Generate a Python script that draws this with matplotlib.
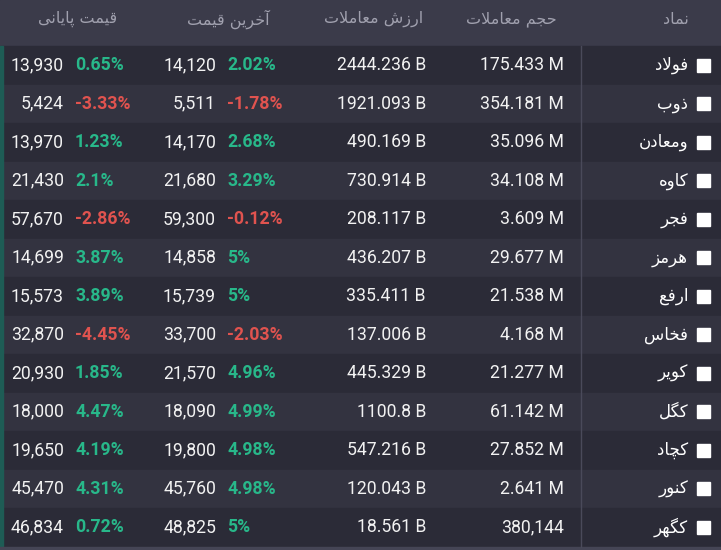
import matplotlib
matplotlib.use('Agg')
import matplotlib.pyplot as plt
from matplotlib.patches import Rectangle

# ---------- data ----------
headers = ['نماد', 'حجم معاملات', 'ارزش معاملات', 'آخرین قیمت', 'قیمت پایانی']
names = ['فولاد', 'ذوب', 'ومعادن', 'کاوه', 'فجر', 'هرمز', 'ارفع', 'فخاس', 'کویر', 'کگل', 'کچاد', 'کنور', 'کگهر']
volume = ['175.433 M', '354.181 M', '35.096 M', '34.108 M', '3.609 M', '29.677 M', '21.538 M',
          '4.168 M', '21.277 M', '61.142 M', '27.852 M', '2.641 M', '380,144']
value = ['2444.236 B', '1921.093 B', '490.169 B', '730.914 B', '208.117 B', '436.207 B', '335.411 B',
         '137.006 B', '445.329 B', '1100.8 B', '547.216 B', '120.043 B', '18.561 B']
last_price = [14120, 5511, 14170, 21680, 59300, 14858, 15739, 33700, 21570, 18090, 19800, 45760, 48825]
last_pct = [2.02, -1.78, 2.68, 3.29, -0.12, 5, 5, -2.03, 4.96, 4.99, 4.98, 4.98, 5]
close_price = [13930, 5424, 13970, 21430, 57670, 14699, 15573, 32870, 20930, 18000, 19650, 45470, 46834]
close_pct = [0.65, -3.33, 1.23, 2.1, -2.86, 3.87, 3.89, -4.45, 1.85, 4.47, 4.19, 4.31, 0.72]

# ---------- minimal persian shaping (matplotlib does no shaping) ----------
# letter -> (isolated, final, initial, medial); right-joining letters have only 2 forms
FORMS = {
    'ا': (0xFE8D, 0xFE8E), 'آ': (0xFE81, 0xFE82), 'د': (0xFEA9, 0xFEAA), 'ذ': (0xFEAB, 0xFEAC),
    'ر': (0xFEAD, 0xFEAE), 'ز': (0xFEAF, 0xFEB0), 'و': (0xFEED, 0xFEEE),
    'ب': (0xFE8F, 0xFE90, 0xFE91, 0xFE92), 'پ': (0xFB56, 0xFB57, 0xFB58, 0xFB59),
    'ت': (0xFE95, 0xFE96, 0xFE97, 0xFE98), 'ج': (0xFE9D, 0xFE9E, 0xFE9F, 0xFEA0),
    'چ': (0xFB7A, 0xFB7B, 0xFB7C, 0xFB7D), 'ح': (0xFEA1, 0xFEA2, 0xFEA3, 0xFEA4),
    'خ': (0xFEA5, 0xFEA6, 0xFEA7, 0xFEA8), 'س': (0xFEB1, 0xFEB2, 0xFEB3, 0xFEB4),
    'ش': (0xFEB5, 0xFEB6, 0xFEB7, 0xFEB8), 'ع': (0xFEC9, 0xFECA, 0xFECB, 0xFECC),
    'ف': (0xFED1, 0xFED2, 0xFED3, 0xFED4), 'ق': (0xFED5, 0xFED6, 0xFED7, 0xFED8),
    'ک': (0xFB8E, 0xFB8F, 0xFB90, 0xFB91), 'گ': (0xFB92, 0xFB93, 0xFB94, 0xFB95),
    'ل': (0xFEDD, 0xFEDE, 0xFEDF, 0xFEE0), 'م': (0xFEE1, 0xFEE2, 0xFEE3, 0xFEE4),
    'ن': (0xFEE5, 0xFEE6, 0xFEE7, 0xFEE8), 'ه': (0xFEE9, 0xFEEA, 0xFEEB, 0xFEEC),
    'ی': (0xFBFC, 0xFBFD, 0xFBFE, 0xFBFF),
}
LAM_ALEF = {'ا': (0xFEFB, 0xFEFC), 'آ': (0xFEF5, 0xFEF6)}


def shape_word(w):
    # merge lam-alef into one unit
    units = []
    i = 0
    while i < len(w):
        if w[i] == 'ل' and i + 1 < len(w) and w[i + 1] in LAM_ALEF:
            units.append(LAM_ALEF[w[i + 1]])
            i += 2
        else:
            units.append(FORMS[w[i]])
            i += 1
    out = ''
    for k, f in enumerate(units):
        prev_joins = k > 0 and len(units[k - 1]) == 4
        next_joins = k < len(units) - 1 and len(f) == 4
        if prev_joins and next_joins:
            c = f[3]
        elif prev_joins:
            c = f[1]
        elif next_joins:
            c = f[2]
        else:
            c = f[0]
        out += chr(c)
    return out


def fa(s):
    return ' '.join(shape_word(w) for w in s.split(' '))[::-1]


# ---------- figure ----------
W, H = 721, 550
fig = plt.figure(figsize=(W / 100, H / 100), dpi=100)
ax = fig.add_axes([0, 0, 1, 1])
ax.set_xlim(0, W)
ax.set_ylim(H, 0)
ax.axis('off')

head_h = 46
row_h = 38.5
n = len(names)

ax.add_patch(Rectangle((0, 0), W, H, color='#2d2d3a', zorder=0))
ax.add_patch(Rectangle((0, 0), W, head_h, color='#3b3b4a', zorder=1))
for i in range(n):
    col = '#2b2b37' if i % 2 == 0 else '#333340'
    ax.add_patch(Rectangle((0, head_h + i * row_h), W, row_h, color=col, zorder=1))
ax.add_patch(Rectangle((0, head_h), 3, n * row_h, color='#1e5c55', zorder=2))
ax.add_patch(Rectangle((0, head_h + n * row_h), W, H - head_h - n * row_h, color='#454555', zorder=2))
ax.plot([581, 581], [head_h, head_h + n * row_h], color='#4a4a5a', lw=1, zorder=2)

hfont = dict(family='DejaVu Sans', fontsize=11.5, color='#a0a0ae', va='center', ha='center')
hx = [676, 511, 374, 228, 78]
for x, t in zip(hx, headers):
    ax.text(x, 19, fa(t), **hfont)

green = '#28b88a'
red = '#e0534f'
num = dict(family='Roboto', fontsize=12.7, color='#f2f2f2', va='center')
pct = dict(family='Roboto', fontsize=12.7, fontweight='bold', va='center', ha='left')

for i in range(n):
    y = head_h + (i + 0.5) * row_h
    ax.add_patch(Rectangle((697, y - 6.5), 13, 13, color='white', zorder=3))
    ax.text(688, y, fa(names[i]), family='DejaVu Sans', fontsize=12, color='white',
            ha='right', va='center')
    ax.text(564, y, volume[i], ha='right', **num)
    ax.text(426, y, value[i], ha='right', **num)
    ax.text(216, y, f'{last_price[i]:,}', ha='right', **num)
    ax.text(227, y, f'{last_pct[i]:g}%', color=green if last_pct[i] >= 0 else red, **pct)
    ax.text(64, y, f'{close_price[i]:,}', ha='right', **num)
    ax.text(75, y, f'{close_pct[i]:g}%', color=green if close_pct[i] >= 0 else red, **pct)

fig.savefig('out.png', dpi=100, facecolor='#2d2d3a')
